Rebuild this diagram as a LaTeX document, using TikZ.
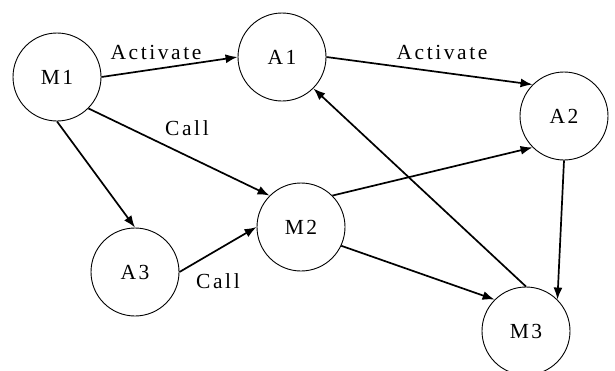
\documentclass[tikz,border=0pt]{standalone}
\usepackage{fontspec}
\setmainfont{Liberation Serif}[LetterSpace=12]
\usepackage{tikz}
\usetikzlibrary{arrows.meta}

\tikzset{
  state/.style={draw, circle, line width=0.9pt, minimum size=88pt, inner sep=0pt, font=\fontsize{21.5}{25}\selectfont},
  lbl/.style={inner sep=0pt, font=\fontsize{21.5}{25}\selectfont},
  link/.style={line width=1.7pt, -{Latex[length=12pt,width=9pt]}}
}

\begin{document}
\begin{tikzpicture}[x=1pt,y=-1pt]
\useasboundingbox (0,0) rectangle (615,370);

\node[state] (M1) at (57,77) {M1};
\node[state] (A1) at (282,57) {A1};
\node[state] (A2) at (564,116) {A2};
\node[state] (M2) at (301,227) {M2};
\node[state] (A3) at (135,272) {A3};
\node[state] (M3) at (526,331) {M3};

\node[lbl] (actA) at (156,52) {Activate};
\node[lbl] (actB) at (442,52) {Activate};
\node[lbl] (callA) at (187,128) {Call};
\node[lbl] (callB) at (218,281) {Call};

\draw[link] (M1.east)--(A1.west);
\draw[link] (A1.east)--(A2.135);
\draw[link] (M1.-45)--(M2.135);
\draw[link] (M1.south)--(A3.north);
\draw[link] (A3.east)--(M2.west);
\draw[link] (M2.45)--(A2.-135);
\draw[link] (M2.-25)--(M3.135);
\draw[link] (M3.north)--(A1.-45);
\draw[link] (A2.south)--(M3.45);

\end{tikzpicture}
\end{document}
